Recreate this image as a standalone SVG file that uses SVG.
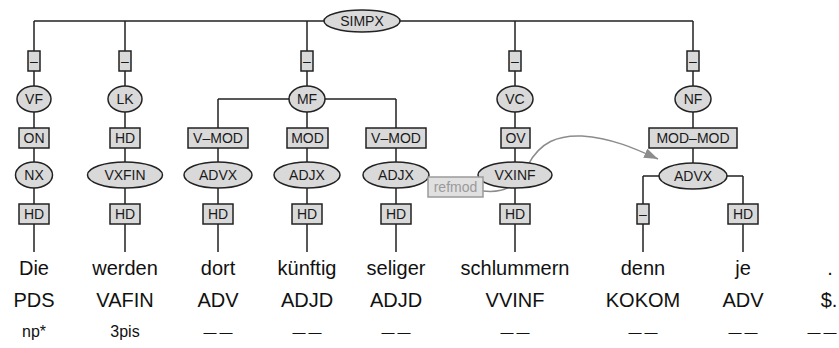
<svg xmlns="http://www.w3.org/2000/svg" width="839" height="348" viewBox="0 0 839 348">
<style>
.e{fill:#d9d9d9;stroke:#222;stroke-width:1.5}
.b{fill:#d9d9d9;stroke:#222;stroke-width:1.5}
.t{font-family:"Liberation Sans",Arial,sans-serif;font-size:14px;fill:#1a1a1a;text-anchor:middle}
.w{font-family:"Liberation Sans",Arial,sans-serif;font-size:20px;fill:#111;text-anchor:middle}
.m{font-family:"Liberation Sans",Arial,sans-serif;font-size:16px;fill:#111;text-anchor:middle}
.d{font-family:"Liberation Sans",Arial,sans-serif;font-size:13px;fill:#111;text-anchor:middle;letter-spacing:3px}
.c{fill:none;stroke:#222;stroke-width:1.5}
.sec{fill:none;stroke:#8c8c8c;stroke-width:1.5}
</style>
<defs>
<marker id="ah" viewBox="0 0 14 10" refX="14" refY="5" markerWidth="14" markerHeight="10" markerUnits="userSpaceOnUse" orient="auto">
<path d="M0 0L14 5L0 10z" fill="#8c8c8c"/>
</marker>
</defs>
<g id="connectors">
<path class="c" d="M34 21H693M34 21V252M125 21V252M307 21V252M515 21V252M693 21V176M218 99H396M218 99V252M396 99V252M643 176H743M643 176V252M743 176V252"/>
<path id="refmod-edge" class="sec" marker-end="url(#ah)" d="M483 191C508 194 520 182 528 165C540 142 558 135 582 136C612 138 636 149 658 159"/>
</g>
<g id="n-simpx"><ellipse class="e" cx="362" cy="21" rx="38" ry="11"/><text class="t" x="362" y="26">SIMPX</text></g>
<g id="e1"><rect class="b" x="28" y="51" width="12" height="20"/><text class="t" x="34" y="66">–</text></g>
<g id="e2"><rect class="b" x="119" y="51" width="12" height="20"/><text class="t" x="125" y="66">–</text></g>
<g id="e3"><rect class="b" x="301" y="51" width="12" height="20"/><text class="t" x="307" y="66">–</text></g>
<g id="e4"><rect class="b" x="509" y="51" width="12" height="20"/><text class="t" x="515" y="66">–</text></g>
<g id="e5"><rect class="b" x="687" y="51" width="12" height="20"/><text class="t" x="693" y="66">–</text></g>
<g id="n-vf"><ellipse class="e" cx="34" cy="99" rx="17" ry="13"/><text class="t" x="34" y="104">VF</text></g>
<g id="n-lk"><ellipse class="e" cx="125" cy="99" rx="17" ry="13"/><text class="t" x="125" y="104">LK</text></g>
<g id="n-mf"><ellipse class="e" cx="307" cy="99" rx="18" ry="13"/><text class="t" x="307" y="104">MF</text></g>
<g id="n-vc"><ellipse class="e" cx="515" cy="99" rx="18" ry="13"/><text class="t" x="515" y="104">VC</text></g>
<g id="n-nf"><ellipse class="e" cx="693" cy="99" rx="18" ry="13"/><text class="t" x="693" y="104">NF</text></g>
<g id="e-on"><rect class="b" x="19" y="128" width="30" height="20"/><text class="t" x="34" y="143">ON</text></g>
<g id="e-hd1"><rect class="b" x="110" y="128" width="30" height="20"/><text class="t" x="125" y="143">HD</text></g>
<g id="e-vmod1"><rect class="b" x="188" y="128" width="60" height="20"/><text class="t" x="218" y="143">V–MOD</text></g>
<g id="e-mod"><rect class="b" x="287" y="128" width="41" height="20"/><text class="t" x="307.5" y="143">MOD</text></g>
<g id="e-vmod2"><rect class="b" x="366" y="128" width="60" height="20"/><text class="t" x="396" y="143">V–MOD</text></g>
<g id="e-ov"><rect class="b" x="501" y="128" width="29" height="20"/><text class="t" x="515.5" y="143">OV</text></g>
<g id="e-modmod"><rect class="b" x="649" y="128" width="88" height="20"/><text class="t" x="693" y="143">MOD–MOD</text></g>
<g id="n-nx"><ellipse class="e" cx="34" cy="175" rx="18.5" ry="13"/><text class="t" x="34" y="180">NX</text></g>
<g id="n-vxfin"><ellipse class="e" cx="125" cy="175" rx="37.5" ry="13"/><text class="t" x="125" y="180">VXFIN</text></g>
<g id="n-advx1"><ellipse class="e" cx="218" cy="175" rx="34" ry="13"/><text class="t" x="218" y="180">ADVX</text></g>
<g id="n-adjx1"><ellipse class="e" cx="307" cy="175" rx="33" ry="13"/><text class="t" x="307" y="180">ADJX</text></g>
<g id="n-adjx2"><ellipse class="e" cx="396" cy="175" rx="33" ry="13"/><text class="t" x="396" y="180">ADJX</text></g>
<g id="n-vxinf"><ellipse class="e" cx="515" cy="175" rx="37" ry="13"/><text class="t" x="515" y="180">VXINF</text></g>
<g id="n-advx2"><ellipse class="e" cx="693" cy="176" rx="34" ry="13"/><text class="t" x="693" y="181">ADVX</text></g>
<g id="refmod"><rect x="428" y="177" width="55" height="20" fill="#e0e0e0" stroke="#9a9a9a" stroke-width="1.5"/><text class="t" x="455.5" y="192" style="fill:#9a9a9a">refmod</text></g>
<g id="e-hd2"><rect class="b" x="19" y="204" width="30" height="20"/><text class="t" x="34" y="219">HD</text></g>
<g id="e-hd3"><rect class="b" x="110" y="204" width="30" height="20"/><text class="t" x="125" y="219">HD</text></g>
<g id="e-hd4"><rect class="b" x="203" y="204" width="30" height="20"/><text class="t" x="218" y="219">HD</text></g>
<g id="e-hd5"><rect class="b" x="292" y="204" width="30" height="20"/><text class="t" x="307" y="219">HD</text></g>
<g id="e-hd6"><rect class="b" x="381" y="204" width="30" height="20"/><text class="t" x="396" y="219">HD</text></g>
<g id="e-hd7"><rect class="b" x="500" y="204" width="30" height="20"/><text class="t" x="515" y="219">HD</text></g>
<g id="e-dash"><rect class="b" x="637" y="204" width="12" height="20"/><text class="t" x="643" y="219">–</text></g>
<g id="e-hd8"><rect class="b" x="728" y="204" width="30" height="20"/><text class="t" x="743" y="219">HD</text></g>
<g id="words">
<text class="w" x="34" y="275">Die</text>
<text class="w" x="125" y="275">werden</text>
<text class="w" x="218" y="275">dort</text>
<text class="w" x="307" y="275">künftig</text>
<text class="w" x="396" y="275">seliger</text>
<text class="w" x="515" y="275">schlummern</text>
<text class="w" x="643" y="275">denn</text>
<text class="w" x="743" y="275">je</text>
<text class="w" x="830" y="275">.</text>
</g>
<g id="pos">
<text class="w" x="34" y="307">PDS</text>
<text class="w" x="125" y="307">VAFIN</text>
<text class="w" x="218" y="307">ADV</text>
<text class="w" x="307" y="307">ADJD</text>
<text class="w" x="396" y="307">ADJD</text>
<text class="w" x="515" y="307">VVINF</text>
<text class="w" x="643" y="307">KOKOM</text>
<text class="w" x="743" y="307">ADV</text>
<text class="w" x="829" y="307">$.</text>
</g>
<g id="morph">
<text class="m" x="34" y="337">np*</text>
<text class="m" x="125" y="337">3pis</text>
<text class="d" x="219.5" y="337">——</text>
<text class="d" x="308.5" y="337">——</text>
<text class="d" x="397.5" y="337">——</text>
<text class="d" x="516.5" y="337">——</text>
<text class="d" x="644.5" y="337">——</text>
<text class="d" x="744.5" y="337">——</text>
<text class="d" x="823.5" y="337">——</text>
</g>
</svg>
